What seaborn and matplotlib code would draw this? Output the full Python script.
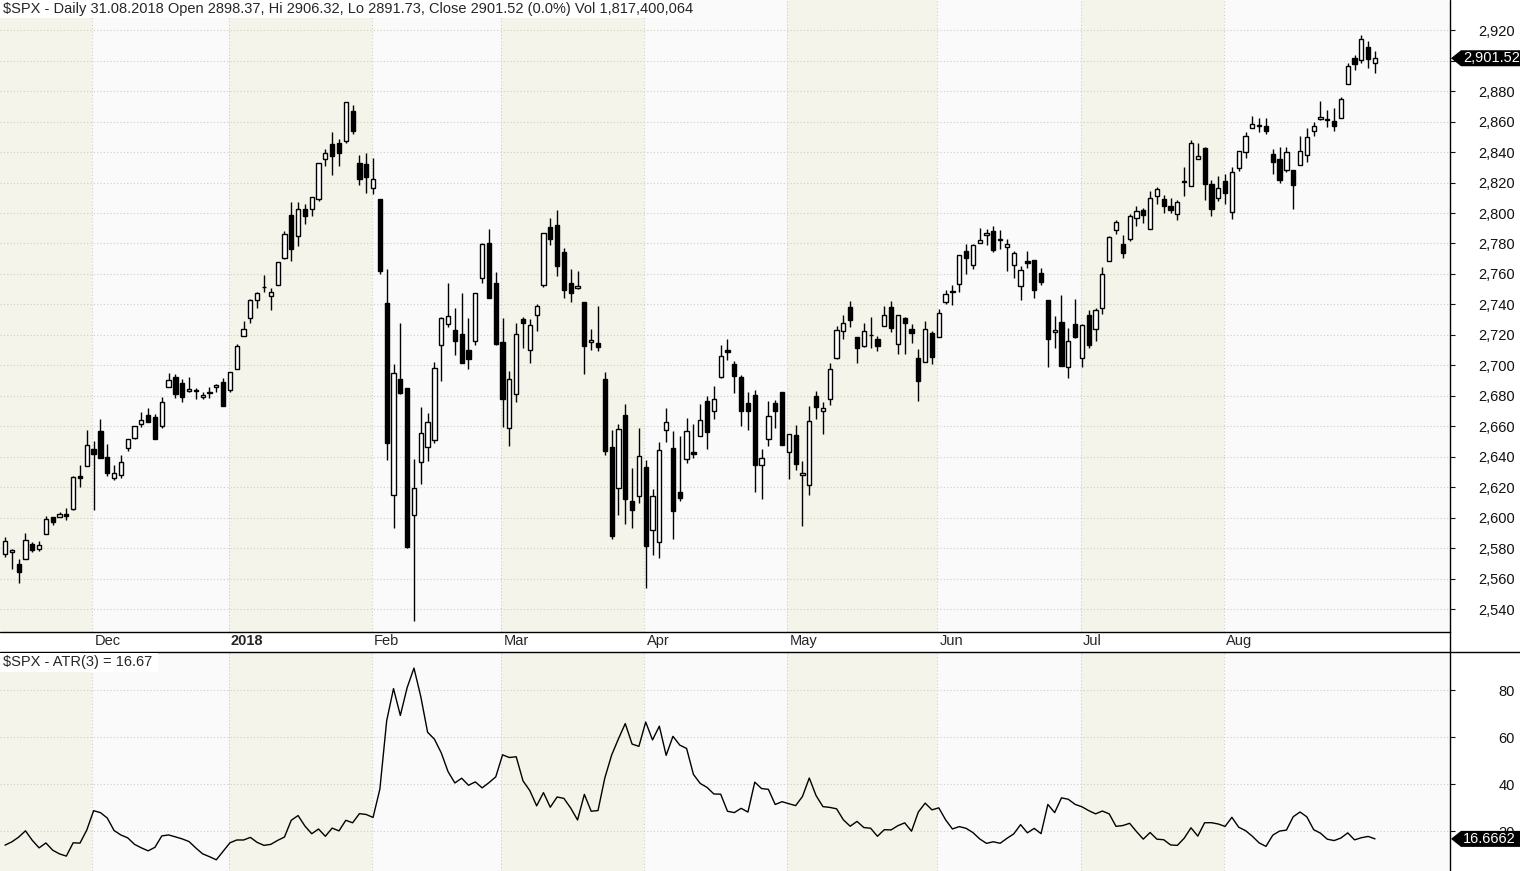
import numpy as np
import pandas as pd
import matplotlib
matplotlib.use("Agg")
import matplotlib.pyplot as plt
import seaborn as sns
from matplotlib.lines import Line2D
from matplotlib.patches import Polygon, Rectangle
from matplotlib.transforms import blended_transform_factory

# ---- data: $SPX daily candles, 13 Nov 2017 - 31 Aug 2018 ----
holidays = ["2017-11-23", "2017-12-25", "2018-01-01", "2018-01-15", "2018-02-19",
            "2018-03-30", "2018-05-28", "2018-07-04"]

opens = [
    2576.5, 2577.8, 2569.5, 2573.0, 2582.9, 2579.5, 2589.2, 2600.3, 2600.4, 2602.7, 2605.9, 2627.8, 2633.9,
    2645.1, 2657.2, 2639.8, 2626.2, 2628.4, 2646.2, 2652.2, 2661.7, 2667.6, 2665.9, 2660.6, 2685.9, 2692.7,
    2688.5, 2683.0, 2684.2, 2679.1, 2682.1, 2686.1, 2689.2,
    2683.7, 2697.9, 2719.3, 2731.3, 2742.7, 2751.2, 2745.6, 2753.0, 2770.2, 2799.0, 2785.0, 2802.4, 2802.6,
    2809.2, 2835.1, 2845.4, 2846.2, 2847.5, 2867.2, 2832.7, 2832.4,
    2816.5, 2808.9, 2741.1, 2614.8, 2691.0, 2685.0, 2601.8, 2636.8, 2646.3, 2651.2, 2713.5, 2727.1, 2723.0,
    2720.5, 2710.4, 2715.8, 2757.4, 2780.5, 2753.8,
    2715.2, 2658.9, 2681.1, 2730.2, 2710.2, 2732.8, 2752.9, 2790.5, 2792.3, 2774.1, 2754.3, 2750.6, 2741.4,
    2715.1, 2715.0, 2691.4, 2646.7, 2619.4, 2667.6, 2611.3, 2614.4,
    2633.5, 2592.2, 2584.0, 2657.4, 2645.8, 2617.2, 2638.4, 2643.0, 2653.8, 2676.9, 2670.1, 2692.7, 2710.1,
    2701.2, 2692.6, 2675.4, 2680.8, 2634.9, 2651.7, 2675.5, 2682.5,
    2643.0, 2654.2, 2628.1, 2621.5, 2680.3, 2670.3, 2678.1, 2705.0, 2722.7, 2738.5, 2718.6, 2712.6, 2719.7,
    2717.4, 2725.7, 2738.3, 2714.0, 2730.9, 2723.6, 2705.1, 2702.4, 2721.0,
    2718.7, 2741.7, 2748.5, 2753.3, 2774.8, 2765.8, 2780.2, 2785.6, 2787.9, 2783.2, 2777.8, 2765.8, 2752.0,
    2768.5, 2769.3, 2760.8, 2742.9, 2722.1, 2728.5, 2698.7, 2727.1,
    2705.0, 2733.3, 2724.2, 2737.7, 2768.5, 2788.6, 2779.8, 2783.1, 2796.9, 2801.8, 2789.3, 2811.4, 2809.4,
    2804.6, 2799.2, 2820.7, 2817.7, 2835.5, 2842.4, 2819.0, 2809.7,
    2821.2, 2800.5, 2829.6, 2840.3, 2855.9, 2856.8, 2857.2, 2838.9, 2835.5, 2827.9, 2828.0, 2831.4, 2838.3,
    2853.9, 2861.5, 2861.0, 2860.3, 2862.4, 2884.7, 2901.5, 2900.6, 2908.9, 2898.4,
]
highs = [
    2587.7, 2579.7, 2572.8, 2590.1, 2584.0, 2584.6, 2601.2, 2600.9, 2604.2, 2606.4, 2627.7, 2634.9, 2657.7,
    2650.6, 2665.2, 2648.7, 2634.4, 2641.0, 2651.7, 2660.3, 2669.7, 2671.9, 2668.1, 2679.6, 2695.0, 2694.4,
    2691.0, 2692.6, 2685.4, 2682.7, 2685.6, 2687.7, 2692.1,
    2695.9, 2714.4, 2729.3, 2743.5, 2748.5, 2759.1, 2750.8, 2767.6, 2787.9, 2807.5, 2807.0, 2805.8, 2810.3,
    2833.0, 2842.2, 2853.0, 2848.6, 2872.9, 2870.6, 2837.8, 2839.3,
    2836.0, 2808.9, 2763.4, 2701.0, 2727.7, 2685.3, 2638.7, 2672.6, 2668.8, 2702.1, 2731.5, 2754.4, 2737.6,
    2747.8, 2731.3, 2747.8, 2780.6, 2789.2, 2761.5,
    2730.9, 2696.3, 2728.1, 2732.1, 2730.6, 2740.5, 2786.6, 2797.0, 2801.9, 2777.1, 2763.0, 2761.9, 2741.4,
    2724.2, 2739.1, 2695.7, 2657.7, 2661.4, 2674.8, 2632.7, 2659.1,
    2638.3, 2619.1, 2649.9, 2672.1, 2656.9, 2653.6, 2665.5, 2661.4, 2674.7, 2680.3, 2686.5, 2713.3, 2717.5,
    2702.8, 2693.9, 2682.9, 2683.6, 2645.3, 2676.5, 2677.4, 2682.9,
    2655.3, 2660.9, 2637.1, 2673.6, 2683.4, 2676.3, 2701.3, 2726.1, 2732.9, 2742.1, 2718.6, 2727.8, 2732.0,
    2719.5, 2739.2, 2742.2, 2733.3, 2732.0, 2727.4, 2710.7, 2729.3, 2722.5,
    2736.9, 2749.2, 2752.6, 2772.4, 2779.9, 2779.4, 2790.2, 2789.8, 2791.5, 2789.1, 2782.8, 2775.0, 2765.1,
    2774.9, 2769.3, 2764.2, 2742.9, 2732.2, 2746.1, 2724.3, 2743.3,
    2727.3, 2736.6, 2737.8, 2764.4, 2784.7, 2795.6, 2785.9, 2799.2, 2804.5, 2803.5, 2814.2, 2816.8, 2812.1,
    2809.7, 2808.6, 2830.0, 2848.0, 2845.6, 2843.2, 2821.7, 2824.5,
    2825.8, 2829.9, 2840.4, 2853.3, 2863.4, 2862.4, 2862.5, 2842.2, 2843.4, 2843.1, 2828.0, 2850.5, 2855.6,
    2859.8, 2873.2, 2867.5, 2868.8, 2876.2, 2898.3, 2903.8, 2916.5, 2912.5, 2906.3,
]
lows = [
    2574.5, 2566.6, 2557.5, 2573.0, 2577.6, 2578.2, 2589.2, 2595.2, 2600.4, 2598.9, 2605.4, 2620.3, 2633.9,
    2605.5, 2639.0, 2627.7, 2624.8, 2626.5, 2644.1, 2651.5, 2659.8, 2662.9, 2652.0, 2659.1, 2685.9, 2678.5,
    2676.1, 2682.4, 2678.1, 2678.0, 2678.9, 2682.7, 2673.6,
    2682.4, 2697.8, 2719.1, 2727.9, 2737.6, 2747.9, 2736.1, 2752.8, 2769.6, 2768.6, 2778.4, 2792.6, 2798.1,
    2808.1, 2830.6, 2824.8, 2830.9, 2846.2, 2851.5, 2818.3, 2813.0,
    2812.7, 2760.0, 2638.2, 2593.1, 2681.3, 2580.6, 2532.7, 2622.5, 2637.1, 2648.9, 2689.8, 2725.1, 2706.8,
    2701.3, 2697.8, 2713.7, 2753.8, 2744.2, 2713.5,
    2659.7, 2647.3, 2675.8, 2711.3, 2701.7, 2722.7, 2751.5, 2779.3, 2758.7, 2744.4, 2741.5, 2750.0, 2694.6,
    2710.1, 2709.8, 2641.6, 2585.9, 2601.8, 2596.1, 2593.1, 2609.7,
    2553.8, 2575.5, 2573.6, 2649.6, 2586.3, 2610.8, 2635.8, 2639.3, 2653.8, 2645.1, 2665.2, 2692.1, 2703.6,
    2681.9, 2660.6, 2658.0, 2617.3, 2612.7, 2647.2, 2659.0, 2648.0,
    2625.4, 2631.7, 2594.6, 2615.3, 2664.7, 2655.2, 2674.1, 2704.5, 2717.5, 2725.5, 2701.9, 2712.2, 2711.4,
    2709.2, 2725.7, 2721.9, 2707.4, 2707.4, 2715.0, 2676.8, 2702.4, 2700.7,
    2718.7, 2740.5, 2739.5, 2748.5, 2760.2, 2763.6, 2780.2, 2778.8, 2774.7, 2776.5, 2761.7, 2757.1, 2743.2,
    2763.9, 2744.4, 2752.7, 2698.7, 2711.3, 2699.4, 2692.0, 2718.0,
    2699.0, 2711.2, 2716.0, 2733.5, 2768.5, 2786.2, 2770.8, 2781.5, 2791.7, 2793.4, 2789.2, 2805.9, 2799.8,
    2800.0, 2795.1, 2811.1, 2817.7, 2835.3, 2808.3, 2798.1, 2808.1,
    2805.9, 2796.3, 2827.4, 2836.0, 2855.9, 2853.1, 2852.0, 2825.8, 2819.9, 2826.6, 2802.5, 2831.4, 2833.7,
    2850.6, 2861.3, 2856.1, 2854.0, 2862.4, 2884.7, 2893.5, 2898.4, 2895.2, 2891.7,
]
closes = [
    2584.8, 2578.9, 2564.6, 2585.6, 2578.9, 2582.1, 2599.0, 2597.1, 2602.4, 2601.4, 2627.0, 2626.1, 2647.6,
    2642.2, 2639.4, 2629.6, 2629.3, 2637.0, 2651.5, 2660.0, 2664.1, 2662.9, 2652.0, 2675.8, 2690.2, 2681.5,
    2679.3, 2684.6, 2683.3, 2680.5, 2682.6, 2687.5, 2673.6,
    2695.8, 2713.1, 2724.0, 2743.2, 2747.7, 2751.3, 2748.2, 2767.6, 2786.2, 2776.4, 2802.6, 2798.0, 2810.3,
    2833.0, 2839.1, 2837.5, 2839.3, 2872.9, 2853.5, 2822.4, 2823.8,
    2822.0, 2762.1, 2648.9, 2695.1, 2681.7, 2581.0, 2619.6, 2656.0, 2662.9, 2698.6, 2731.2, 2732.2, 2716.3,
    2701.3, 2704.0, 2747.3, 2779.6, 2744.3, 2713.8,
    2677.7, 2691.3, 2720.9, 2728.1, 2726.8, 2739.0, 2786.6, 2783.0, 2765.3, 2749.5, 2747.3, 2752.0, 2712.9,
    2716.9, 2711.9, 2643.7, 2588.3, 2658.6, 2612.6, 2605.0, 2640.9,
    2581.9, 2614.5, 2644.7, 2662.8, 2604.5, 2613.2, 2656.9, 2642.2, 2664.0, 2656.3, 2677.8, 2706.4, 2708.6,
    2693.1, 2670.1, 2670.3, 2634.6, 2639.4, 2666.9, 2669.9, 2648.1,
    2654.8, 2635.7, 2629.7, 2663.4, 2672.6, 2671.9, 2697.8, 2723.1, 2727.7, 2730.1, 2711.5, 2722.5, 2720.1,
    2713.0, 2733.0, 2724.4, 2733.3, 2727.8, 2721.3, 2689.9, 2724.0, 2705.3,
    2734.6, 2746.9, 2748.8, 2772.4, 2770.4, 2779.0, 2782.0, 2786.9, 2775.6, 2782.5, 2779.7, 2773.8, 2762.6,
    2767.3, 2749.8, 2754.9, 2717.1, 2723.1, 2699.6, 2716.3, 2718.4,
    2726.7, 2713.2, 2736.6, 2759.8, 2784.2, 2793.8, 2774.0, 2798.3, 2801.3, 2798.4, 2809.6, 2815.6, 2804.5,
    2801.8, 2807.0, 2820.4, 2846.1, 2837.4, 2818.8, 2802.6, 2816.3,
    2813.4, 2827.2, 2840.4, 2850.4, 2858.5, 2857.7, 2853.6, 2833.3, 2821.9, 2840.0, 2818.4, 2840.7, 2850.1,
    2857.1, 2863.0, 2861.8, 2857.0, 2874.7, 2896.7, 2897.5, 2914.0, 2901.1, 2901.5,
]

atr_first = 14.0          # ATR(3) on the first bar
atr_last_label = "16.6662"
price_last_label = "2,901.52"
header = ("$SPX - Daily 31.08.2018 Open 2898.37, Hi 2906.32, Lo 2891.73, "
          "Close 2901.52 (0.0%) Vol 1,817,400,064")
atr_title = "$SPX - ATR(3) = 16.67"
price_ticks = list(range(2540, 2921, 20))
hidden_price_tick = 2900   # sits under the last-close tag
atr_ticks = [20, 40, 60, 80]

# ---- frame ----
dates = pd.bdate_range("2017-11-13", "2018-08-31")
dates = dates[~dates.isin(pd.to_datetime(holidays))]
df = pd.DataFrame({"Date": dates, "Open": opens, "High": highs, "Low": lows, "Close": closes})
df["x"] = np.arange(len(df))

# Wilder ATR(3) of the true range, as named in the panel title
prev_close = df["Close"].shift(1)
tr = pd.concat([df["High"] - df["Low"],
                (df["High"] - prev_close).abs(),
                (df["Low"] - prev_close).abs()], axis=1).max(axis=1)
tr.iloc[0] = atr_first
df["ATR"] = tr.ewm(alpha=1 / 3, adjust=False).mean()

month_idx = df.index[df["Date"].dt.month != df["Date"].dt.month.shift(1)][1:]
month_names = [("2018" if d.month == 1 else d.strftime("%b")) for d in df.loc[month_idx, "Date"]]

# ---- style ----
sns.set_style("white")
plt.rcParams["font.family"] = ["Liberation Sans", "DejaVu Sans"]

W, H, DPI = 1520, 871, 100
FS = 10.5
BEIGE, LIGHT, GRID = "#F4F4EA", "#FAFAFA", "#CFCFC0"
bar_px = 6.816
xlim = (-5 / bar_px, -5 / bar_px + 1450 / bar_px)


def fx(px):
    return px / W


def fy(py):
    return 1 - py / H


fig = plt.figure(figsize=(W / DPI, H / DPI), dpi=DPI)
fig.patch.set_facecolor("white")
ax1 = fig.add_axes([0, fy(632), fx(1450), 632 / H])
ax2 = fig.add_axes([0, 0, fx(1450), 219 / H])

edges = [xlim[0]] + [i - 0.2 for i in month_idx] + [xlim[1]]
for ax in (ax1, ax2):
    ax.set_facecolor(LIGHT)
    for k in range(len(edges) - 1):
        ax.axvspan(edges[k], edges[k + 1], color=BEIGE if k % 2 == 0 else LIGHT, lw=0, zorder=0)
    ax.set_xlim(*xlim)
    ax.set_xticks([i - 0.2 for i in month_idx])
    ax.set_axisbelow(True)
    ax.grid(True, color=GRID, linestyle=(0, (1, 2)), linewidth=0.8)
    for s in ax.spines.values():
        s.set_visible(False)
    ax.yaxis.tick_right()

# candles
up = df["Close"] >= df["Open"]
body_low = df[["Open", "Close"]].min(axis=1)
body_h = (df["Close"] - df["Open"]).abs().clip(lower=0.3)
ax1.vlines(df["x"], df["Low"], df["High"], color="black", linewidth=1.0, zorder=2)
ax1.bar(df.loc[up, "x"], body_h[up], bottom=body_low[up], width=0.62,
        color="white", edgecolor="black", linewidth=1.0, zorder=3)
ax1.bar(df.loc[~up, "x"], body_h[~up], bottom=body_low[~up], width=0.62,
        color="black", edgecolor="black", linewidth=1.0, zorder=3)
ax1.set_ylim(2525.2, 2939.7)
ax1.set_yticks(price_ticks)
ax1.set_yticklabels(["" if v == hidden_price_tick else f"{v:,}" for v in price_ticks])

# ATR line
sns.lineplot(data=df, x="x", y="ATR", ax=ax2, color="black", linewidth=1.0)
ax2.set_xlabel("")
ax2.set_ylabel("")
ax2.set_ylim(3.0, 96.2)
ax2.set_yticks(atr_ticks)

pad_pt = 60 * 72 / DPI
for ax in (ax1, ax2):
    ax.tick_params(axis="y", direction="out", length=5 * 72 / DPI, width=0.8,
                   pad=pad_pt, labelsize=FS, colors="#111111")
    for lbl in ax.get_yticklabels():
        lbl.set_horizontalalignment("right")
ax1.tick_params(axis="x", direction="out", length=8 * 72 / DPI, width=0.8, labelbottom=False)
ax2.tick_params(axis="x", length=0, labelbottom=False)

# month labels under the price panel
tr_lab = blended_transform_factory(ax1.transData, ax1.transAxes)
for i, name in zip(month_idx, month_names):
    ax1.text(i + 0.15, -9 / 632, name, transform=tr_lab, ha="left", va="center",
             fontsize=FS, fontweight="bold" if name == "2018" else "normal", clip_on=False)

# frame lines
for xs, ys in [([0, fx(1450)], [fy(632), fy(632)]),
               ([0, 1], [fy(652), fy(652)]),
               ([fx(1450), fx(1450)], [0, 1])]:
    fig.add_artist(Line2D(xs, ys, color="black", linewidth=1.0, transform=fig.transFigure, zorder=8))

# header boxes
fig.add_artist(Rectangle((0, fy(18)), fx(690), 18 / H, transform=fig.transFigure,
                         facecolor="white", edgecolor="none", zorder=8))
fig.text(fx(3), fy(9), header, ha="left", va="center", fontsize=FS, zorder=9)
fig.add_artist(Rectangle((0, fy(672)), fx(158), 19 / H, transform=fig.transFigure,
                         facecolor="white", edgecolor="none", zorder=8))
fig.text(fx(3), fy(662), atr_title, ha="left", va="center", fontsize=FS, zorder=9)


# last value tags on the right axis
def value_tag(ax, value, label):
    yf = ax.transData.transform((0, value))[1] / fig.bbox.height
    hh = 8 / H
    pts = [(fx(1451), yf), (fx(1461), yf + hh), (1.0, yf + hh), (1.0, yf - hh), (fx(1461), yf - hh)]
    fig.add_artist(Polygon(pts, closed=True, transform=fig.transFigure,
                           facecolor="black", edgecolor="none", zorder=10))
    fig.text(fx(1463), yf, label, color="white", ha="left", va="center", fontsize=FS, zorder=11)


value_tag(ax1, df["Close"].iloc[-1], price_last_label)
value_tag(ax2, float(atr_last_label), atr_last_label)

fig.savefig("out.png", dpi=DPI)
